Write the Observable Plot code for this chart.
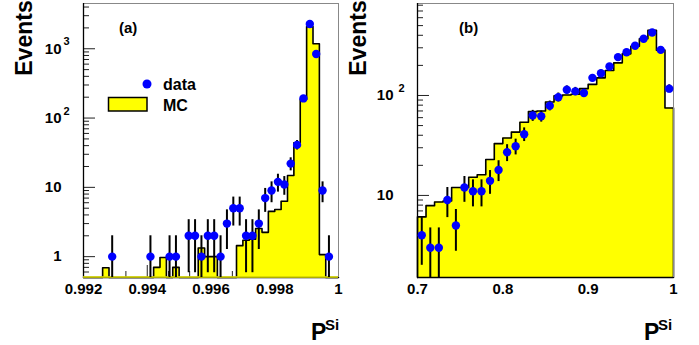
<!DOCTYPE html>
<html><head><meta charset="utf-8">
<script src="https://cdn.jsdelivr.net/npm/d3@7"></script>
<script src="https://cdn.jsdelivr.net/npm/@observablehq/plot@0.6"></script>
<style>
body{margin:0;background:#fff;}
#wrap{position:relative;width:699px;height:345px;overflow:hidden;font-family:"Liberation Sans",Arial,Helvetica,sans-serif;}
#wrap svg{position:absolute;top:0;}
</style></head><body><div id="wrap"></div>
<script>
// ---------- Panel (a) ----------
const binsA = {lo: 0.992, hi: 1.0, n: 40};
const mcA = [0,0,0,0.69,0,0,0,0,0,0, 0,0.7,0.97,0,0.7,0,0,0,1.33,1.0,
             1.0,0,0,0,1.44,1.72,1.78,2.55,2.24,4.5, 4.8,6.3,14.8,44,185,2090,1180,1.07,0,0];
const dataAx = [0.9929,0.9941,0.9947,0.9949,0.9953,0.9955,0.9957,0.9959,0.9961,0.9963,
                0.9965,0.9967,0.9969,0.9971,0.9973,0.9975,0.9977,0.9979,0.9981,0.9983,
                0.9985,0.9987,0.9989,0.9991,0.9993,0.9995,0.9997];
const dataAn = [1,1,1,1,2,2,1,2,2,1, 3,5,5,2,2,3,7,9,12,11, 22,41,192,2280,841,9,1];
const yDomA = [0.5, 4500];
const yMajorA = [1,10,100,1000];
const yMajorLabA = ["1","10","10","10"];
const yExpA = ["","","2","3"];
const yMinorA = [0.6,0.7,0.8,0.9,2,3,4,5,6,7,8,9,20,30,40,50,60,70,80,90,200,300,400,500,600,700,800,900,2000,3000,4000];
const xMajorA = [0.992,0.994,0.996,0.998,1.0];
const xMajorLabA = ["0.992","0.994","0.996","0.998","1"];
const xMinorA = [0.99267,0.99333,0.99467,0.99533,0.99667,0.99733,0.99867,0.99933];

// ---------- Panel (b) ----------
const binsB = {lo: 0.7, hi: 1.0, n: 30};
const mcB = [6.1,7.9,8.6,8.8,12,12,15.2,16.1,22.9,33, 37.5,43,54,69,70,86,99,101,103,117,
             129,150,178,212,261,311,369,450,284,75];
const dataBx = [0.705,0.715,0.725,0.735,0.745,0.755,0.765,0.775,0.785,0.795,
                0.805,0.815,0.825,0.835,0.845,0.855,0.865,0.875,0.885,0.895,
                0.905,0.915,0.925,0.935,0.945,0.955,0.965,0.975,0.985,0.995];
const dataBn = [4,3,3,9,5,12,11,11,14,18, 27,31,41,63,62,79,96,114,110,106,
                150,167,195,242,271,314,369,427,286,117];
const yDomB = [1.51, 832];
const yMajorB = [10,100];
const yMajorLabB = ["10","10"];
const yExpB = ["","2"];
const yMinorB = [2,3,4,5,6,7,8,9,20,30,40,50,60,70,80,90,200,300,400,500,600,700,800];
const xMajorB = [0.7,0.8,0.9,1.0];
const xMajorLabB = ["0.7","0.8","0.9","1"];
const xMinorB = [0.7333,0.7667,0.8333,0.8667,0.9333,0.9667];

const FONT = '"Liberation Sans",Arial,Helvetica,sans-serif';

function steps(b, vals, ymin){
  const w = (b.hi - b.lo) / b.n;
  const pts = [{x: b.lo, y: ymin}];
  vals.forEach((v, i) => {
    const y = v > 0 ? v : ymin;
    pts.push({x: b.lo + i*w, y}, {x: b.lo + (i+1)*w, y});
  });
  pts.push({x: b.hi, y: ymin});
  return pts;
}

function panel(cfg){
  const ymin = cfg.yDom[0], ymax = cfg.yDom[1];
  const fw = cfg.width - cfg.ml - cfg.mr, fh = 345 - cfg.mt - cfg.mb;
  const pts = steps(cfg.bins, cfg.mc, ymin);
  const data = cfg.dx.map((x, i) => {
    const n = cfg.dn[i], e = Math.sqrt(n);
    return {x, n, lo: Math.max(n - e, ymin), hi: n + e};
  });
  const majors = cfg.yMajor.map((v, i) => ({v, t: cfg.yLab[i], e: cfg.yExp[i]}));
  const xl = cfg.xMajor.map((v, i) => ({v, t: cfg.xLab[i]}));
  const marks = [
    Plot.tickY(cfg.yMinor, {y: d => d, insetRight: fw - 6, stroke: "#222", strokeWidth: 1}),
    Plot.tickY(cfg.yMajor, {y: d => d, insetRight: fw - 12, stroke: "#222", strokeWidth: 1}),
    Plot.tickX(cfg.xMinor, {x: d => d, insetTop: fh - 6, stroke: "#222", strokeWidth: 1}),
    Plot.tickX(cfg.xMajor, {x: d => d, insetTop: fh - 12, stroke: "#222", strokeWidth: 1}),
    Plot.areaY(pts, {x: "x", y1: ymin, y2: "y", fill: "#ffff00"}),
    Plot.line(pts, {x: "x", y: "y", stroke: "#000", strokeWidth: 1.6}),
    Plot.ruleY([ymax], {stroke: "#888", strokeWidth: 1}),
    Plot.ruleX([cfg.bins.hi], {stroke: "#888", strokeWidth: 1}),
    Plot.ruleX([cfg.bins.lo], {stroke: "#000", strokeWidth: 1.3}),
    Plot.ruleY([ymin], {stroke: "#000", strokeWidth: 1.3}),
  ];
  if (cfg.yellowBase) marks.push(Plot.ruleY([ymin], {stroke: "#e8e800", strokeWidth: 1.6, dy: -0.5}));
  marks.push(
    Plot.ruleX(data, {x: "x", y1: "lo", y2: "hi", stroke: "#000", strokeWidth: 2}),
    Plot.dot(data, {x: "x", y: "n", r: 4.2, fill: "#0000ff", stroke: "none"}),
    Plot.text(majors, {y: "v", text: "t", frameAnchor: "left", dx: cfg.labDx, textAnchor: "end",
      fontSize: 15, fontWeight: "bold", fill: "#000"}),
    Plot.text(majors, {y: "v", text: "e", frameAnchor: "left", dx: cfg.expDx, dy: -7, textAnchor: "start",
      fontSize: 11, fontWeight: "bold", fill: "#000"}),
    Plot.text(xl, {x: "v", text: "t", frameAnchor: "bottom", dy: 16, textAnchor: "middle",
      fontSize: 15, fontWeight: "bold", fill: "#000"})
  );
  const svg = Plot.plot({
    width: cfg.width, height: 345,
    marginLeft: cfg.ml, marginRight: cfg.mr, marginTop: cfg.mt, marginBottom: cfg.mb,
    x: {domain: [cfg.bins.lo, cfg.bins.hi], axis: null},
    y: {type: "log", domain: cfg.yDom, axis: null},
    style: {fontFamily: FONT, background: "transparent", overflow: "visible"},
    marks
  });
  svg.style.left = cfg.left + "px";
  return svg;
}

const wrap = document.getElementById("wrap");
wrap.appendChild(panel({
  left: 0, width: 350, ml: 83, mr: 12, mt: 3, mb: 68,
  bins: binsA, mc: mcA, dx: dataAx, dn: dataAn, yDom: yDomA,
  yMajor: yMajorA, yLab: yMajorLabA, yExp: yExpA, yMinor: yMinorA,
  xMajor: xMajorA, xLab: xMajorLabA, xMinor: xMinorA,
  labDx: -22, expDx: -20, yellowBase: true
}));
wrap.appendChild(panel({
  left: 350, width: 349, ml: 67, mr: 26, mt: 3, mb: 68,
  bins: binsB, mc: mcB, dx: dataBx, dn: dataBn, yDom: yDomB,
  yMajor: yMajorB, yLab: yMajorLabB, yExp: yExpB, yMinor: yMinorB,
  xMajor: xMajorB, xLab: xMajorLabB, xMinor: xMinorB,
  labDx: -24, expDx: -19, yellowBase: false
}));

// ---------- annotations: axis titles, panel tags, legend ----------
const ns = "http://www.w3.org/2000/svg";
const ov = d3.select(wrap).append("svg").attr("width", 699).attr("height", 345)
  .style("left", "0px").style("pointer-events", "none")
  .attr("font-family", FONT).attr("font-weight", "bold");
[32, 366].forEach(x => {
  ov.append("text").attr("transform", `translate(${x},38) rotate(-90)`)
    .attr("text-anchor", "middle").attr("font-size", 23).text("Events");
});
[[311, 325], [644, 658]].forEach(([xp, xs]) => {
  ov.append("text").attr("x", xp).attr("y", 340).attr("font-size", 23).text("P");
  ov.append("text").attr("x", xs).attr("y", 330).attr("font-size", 15).text("Si");
});
ov.append("text").attr("x", 119).attr("y", 33).attr("font-size", 15).text("(a)");
ov.append("text").attr("x", 459).attr("y", 33).attr("font-size", 15).text("(b)");
ov.append("circle").attr("cx", 147).attr("cy", 84).attr("r", 4.5).attr("fill", "#0000ff");
ov.append("text").attr("x", 163).attr("y", 90).attr("font-size", 16).text("data");
ov.append("rect").attr("x", 108.5).attr("y", 97.5).attr("width", 38.5).attr("height", 13.5)
  .attr("fill", "#ffff00").attr("stroke", "#000").attr("stroke-width", 1.5);
ov.append("text").attr("x", 163).attr("y", 111).attr("font-size", 16).text("MC");
</script></body></html>
